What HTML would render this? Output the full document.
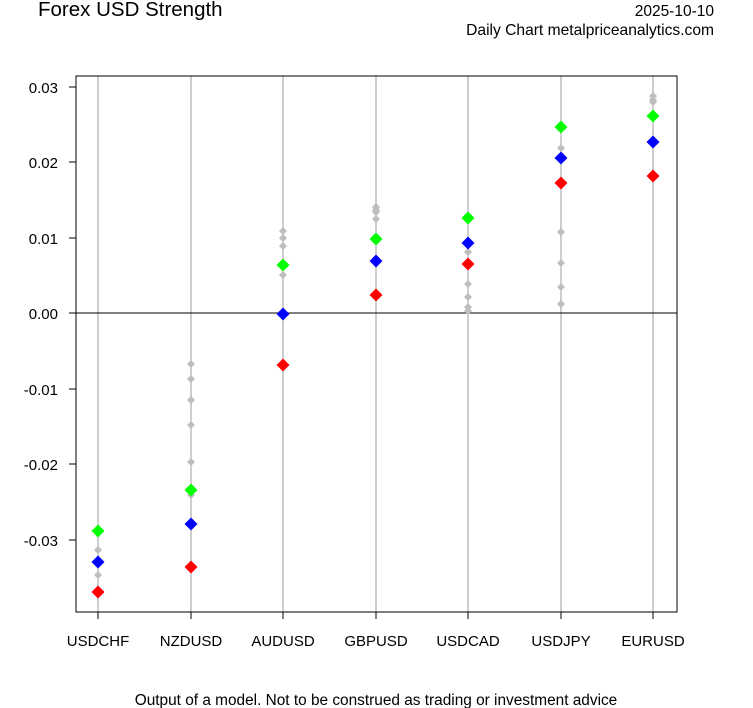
<!DOCTYPE html>
<html><head><meta charset="utf-8"><style>body{margin:0;background:#fff}svg{display:block}</style></head><body>
<svg width="753" height="708" xmlns="http://www.w3.org/2000/svg" font-family="Liberation Sans, sans-serif">
<defs>
<path id="d" d="M0,-6.5L6.5,0L0,6.5L-6.5,0Z"/>
<path id="g" d="M0,-4L4,0L0,4L-4,0Z"/>
</defs>
<rect width="753" height="708" fill="#fff"/>
<text x="38" y="16" font-size="20.5">Forex USD Strength</text>
<text x="714" y="16" font-size="15.5" text-anchor="end">2025-10-10</text>
<text x="714" y="35" font-size="15.6" text-anchor="end">Daily Chart metalpriceanalytics.com</text>
<text x="376" y="705" font-size="15.4" text-anchor="middle">Output of a model. Not to be construed as trading or investment advice</text>
<g stroke="#bebebe" stroke-width="1.5">
<line x1="98" y1="76" x2="98" y2="612"/><line x1="191" y1="76" x2="191" y2="612"/><line x1="283" y1="76" x2="283" y2="612"/><line x1="376" y1="76" x2="376" y2="612"/><line x1="468" y1="76" x2="468" y2="612"/><line x1="561" y1="76" x2="561" y2="612"/><line x1="653" y1="76" x2="653" y2="612"/>
</g>
<line x1="76" y1="313" x2="677" y2="313" stroke="#000"/>
<rect x="76" y="76" width="601" height="536" fill="none" stroke="#000"/>
<g stroke="#000">
<line x1="69" y1="87" x2="76" y2="87"/><line x1="69" y1="162" x2="76" y2="162"/><line x1="69" y1="238" x2="76" y2="238"/><line x1="69" y1="313" x2="76" y2="313"/><line x1="69" y1="389" x2="76" y2="389"/><line x1="69" y1="464" x2="76" y2="464"/><line x1="69" y1="540" x2="76" y2="540"/>
<line x1="98" y1="612" x2="98" y2="619"/><line x1="191" y1="612" x2="191" y2="619"/><line x1="283" y1="612" x2="283" y2="619"/><line x1="376" y1="612" x2="376" y2="619"/><line x1="468" y1="612" x2="468" y2="619"/><line x1="561" y1="612" x2="561" y2="619"/><line x1="653" y1="612" x2="653" y2="619"/>
</g>
<g font-size="15" text-anchor="end">
<text x="58" y="93">0.03</text><text x="58" y="168">0.02</text><text x="58" y="244">0.01</text><text x="58" y="319">0.00</text><text x="58" y="395">-0.01</text><text x="58" y="470">-0.02</text><text x="58" y="546">-0.03</text>
</g>
<g font-size="15" text-anchor="middle">
<text x="98" y="646">USDCHF</text><text x="191" y="646">NZDUSD</text><text x="283" y="646">AUDUSD</text><text x="376" y="646">GBPUSD</text><text x="468" y="646">USDCAD</text><text x="561" y="646">USDJPY</text><text x="653" y="646">EURUSD</text>
</g>
<g fill="#bebebe">
<use href="#g" x="98" y="550"/><use href="#g" x="98" y="575"/>
<use href="#g" x="191" y="364"/><use href="#g" x="191" y="379"/><use href="#g" x="191" y="400"/><use href="#g" x="191" y="425"/><use href="#g" x="191" y="462"/><use href="#g" x="191" y="495"/>
<use href="#g" x="283" y="231"/><use href="#g" x="283" y="238"/><use href="#g" x="283" y="246"/><use href="#g" x="283" y="275"/>
<use href="#g" x="376" y="207"/><use href="#g" x="376" y="210"/><use href="#g" x="376" y="212"/><use href="#g" x="376" y="219"/>
<use href="#g" x="468" y="252"/><use href="#g" x="468" y="284"/><use href="#g" x="468" y="297"/><use href="#g" x="468" y="307"/><use href="#g" x="468" y="311"/>
<use href="#g" x="561" y="148"/><use href="#g" x="561" y="232"/><use href="#g" x="561" y="263"/><use href="#g" x="561" y="287"/><use href="#g" x="561" y="304"/>
<use href="#g" x="653" y="96"/><use href="#g" x="653" y="100"/><use href="#g" x="653" y="102"/>
</g>
<g fill="#00ff00">
<use href="#d" x="98" y="531"/><use href="#d" x="191" y="490"/><use href="#d" x="283" y="265"/><use href="#d" x="376" y="239"/><use href="#d" x="468" y="218"/><use href="#d" x="561" y="127"/><use href="#d" x="653" y="116"/>
</g>
<g fill="#0000ff">
<use href="#d" x="98" y="562"/><use href="#d" x="191" y="524"/><use href="#d" x="283" y="314"/><use href="#d" x="376" y="261"/><use href="#d" x="468" y="243"/><use href="#d" x="561" y="158"/><use href="#d" x="653" y="142"/>
</g>
<g fill="#ff0000">
<use href="#d" x="98" y="592"/><use href="#d" x="191" y="567"/><use href="#d" x="283" y="365"/><use href="#d" x="376" y="295"/><use href="#d" x="468" y="264"/><use href="#d" x="561" y="183"/><use href="#d" x="653" y="176"/>
</g>
</svg>
</body></html>
